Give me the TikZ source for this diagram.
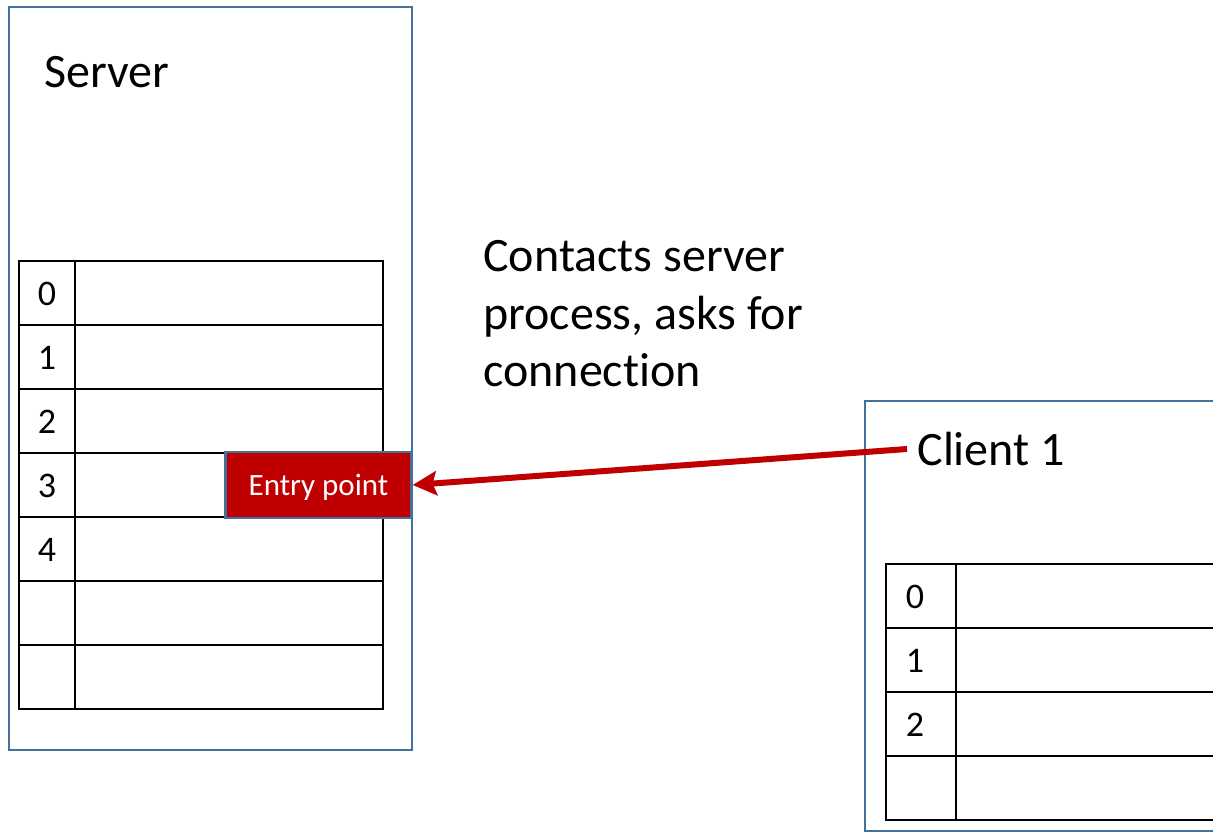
\documentclass[tikz,border=0pt]{standalone}
\usepackage{fontspec}
\setmainfont{Carlito}[Ligatures=NoCommon]
\usepackage{tikz}
\usetikzlibrary{positioning,arrows.meta}
\definecolor{boxblue}{HTML}{41719C}
\definecolor{darkred}{HTML}{C00000}

\begin{document}
\begin{tikzpicture}[x=0.5pt, y=-0.5pt, >=Stealth, every node/.style={font=\fontsize{24}{28.8}\selectfont}]
\tikzstyle{hostbox}=[draw=boxblue, line width=1.1pt]
\tikzstyle{cell}=[draw=black, line width=1.1pt]
\tikzstyle{idx}=[font=\fontsize{18}{21}\selectfont, inner sep=0pt]
\tikzstyle{entrybox}=[rectangle, draw=boxblue, line width=1.1pt, fill=darkred, text=white, minimum width=93pt, minimum height=33pt, text depth=0pt, font=\fontsize{15.5}{18}\selectfont]
\clip (0,0) rectangle (1213,833);
% server
\draw[hostbox] (9,7) rectangle (412,750);
\node[anchor=base west, inner sep=0pt] (server) at (44,88) {Server};
\foreach \i/\lab in {0/0,1/1,2/2,3/3,4/4,5/,6/} {
  \draw[cell] (19,261+64*\i) rectangle (75,325+64*\i);
  \draw[cell] (75,261+64*\i) rectangle (383,325+64*\i);
  \node[idx] (s\i) at (47,294+64*\i) {\lab};
}
\node[entrybox] (entry) at (318.5,485) {Entry point};
% client
\draw[hostbox] (865,401) rectangle (1240,831);
\node[anchor=west, inner sep=5pt] (client) at (907,449) {Client 1};
\foreach \i/\lab in {0/0,1/1,2/2,3/} {
  \draw[cell] (886,564+64*\i) rectangle (956,628+64*\i);
  \draw[cell] (956,564+64*\i) rectangle (1240,628+64*\i);
  \node[idx] (c\i) at (915,597+64*\i) {\lab};
}
\node[anchor=north west, align=left, inner sep=0pt] (msg) at (483,240) {Contacts server\\process, asks for\\connection};
\draw[->, draw=darkred, line width=3pt, arrows={-Stealth[length=12pt, width=12pt, inset=2pt]}] (client.west) -- (entry.east);
\end{tikzpicture}
\end{document}
